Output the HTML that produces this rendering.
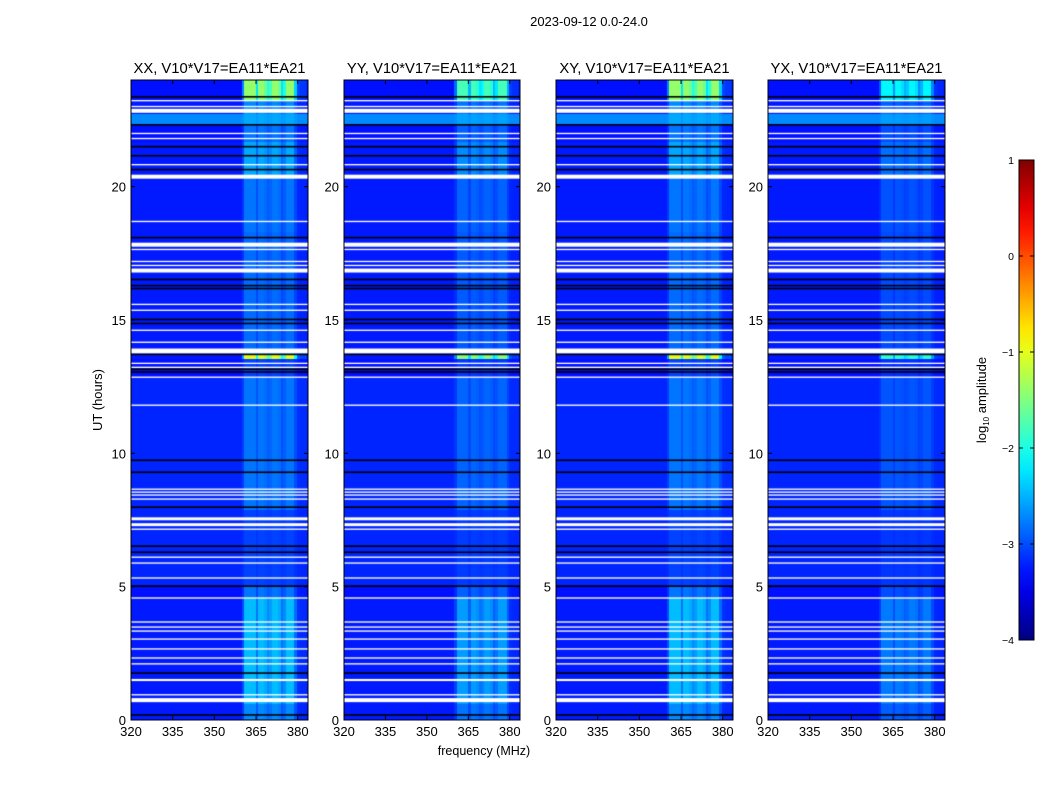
<!DOCTYPE html>
<html><head><meta charset="utf-8">
<style>
html,body{margin:0;padding:0;background:#fff;}
#root{position:relative;width:1050px;height:800px;overflow:hidden;font-family:"Liberation Sans",sans-serif;}
canvas{position:absolute;}
svg{position:absolute;left:0;top:0;}
</style></head>
<body>
<div id="root">
<canvas id="c0" width="177" height="640" style="left:131px;top:80px"></canvas>
<canvas id="c1" width="176" height="640" style="left:344px;top:80px"></canvas>
<canvas id="c2" width="177" height="640" style="left:556px;top:80px"></canvas>
<canvas id="c3" width="177" height="640" style="left:768px;top:80px"></canvas>
<svg id="ov" width="1050" height="800"></svg>
</div>
<script>
// ---- data ----
const panelTitles = ["XX, V10*V17=EA11*EA21","YY, V10*V17=EA11*EA21","XY, V10*V17=EA11*EA21","YX, V10*V17=EA11*EA21"];
const panelBandGain = [1.0, 0.8, 1.0, 0.6];
const xTicks = [320,335,350,365,380];
const yTicks = [0,5,10,15,20];
const cbTicks = [1,0,-1,-2,-3,-4];
const cbTickLabels = ["1","0","\u22121","\u22122","\u22123","\u22124"];
// flagged (white) intervals, hours
const flagged = [[23.20,23.25],[22.98,23.03],[22.77,22.92],[21.97,22.02],[21.78,21.83],[20.80,20.85],[20.30,20.45],
 [18.67,18.72],[17.75,17.90],[17.62,17.67],[17.17,17.22],[17.02,17.07],[16.78,16.93],[15.56,15.61],[15.34,15.39],
 [14.59,14.64],[14.14,14.19],[13.75,13.93],[13.35,13.40],[13.20,13.25],[12.83,12.88],[11.78,11.83],
 [8.63,8.68],[8.52,8.57],[8.41,8.46],[8.26,8.31],[7.49,7.60],[7.27,7.38],[7.13,7.18],[6.08,6.13],[5.86,5.91],
 [5.30,5.35],[4.55,4.60],[3.65,3.70],[3.46,3.51],[3.31,3.36],[3.01,3.06],[2.64,2.69],[2.30,2.35],[2.08,2.13],
 [1.46,1.54],[0.92,0.97],[0.67,0.82]];
// dark (black) rows, hours
const darkRows = [23.37,22.32,21.50,21.16,20.64,18.09,16.52,16.29,16.18,15.02,14.87,13.71,13.15,13.05,9.74,9.29,7.98,6.52,6.29,5.02,1.76,0.19];
// time segments: [start, end, background log-amp, band log-amp]
const segStart = [0,0.6,4.6,5.0,7.9,12.85,13.55,13.7,18.3,20.45,21.7,22.3,22.35,22.75,23.25];
const segEnd   = [0.6,4.6,5.0,7.9,12.8,13.55,13.7,18.3,20.3,21.7,22.3,22.35,22.75,23.25,24];
const segBg    = [-3.25,-3.25,-3.3,-3.2,-3.2,-3.3,-3.25,-3.25,-3.25,-3.25,-3.3,-3.25,-2.7,-3.25,-3.3];
const segBand  = [-2.7,-2.45,-2.8,-3.05,-2.8,-3.05,-1.0,-2.85,-2.8,-2.55,-2.8,-2.8,-2.55,-2.7,-1.4];
// frequency channel weights, 1 MHz bins starting at 320 MHz
const chanFreq = []; for (let f=320; f<384; f++) chanFreq.push(f);
const chanWeight = [0,0,0,0,0,0,0,0,0,0, 0,0,0,0,0,0,0,0,0,0, 0,0,0,0,0,0,0,0,0,0, 0,0,0,0,0,0,0,0,0,0,
 0.3,1,1,1,1,0.55,1,1,0.9,0.7,0.8,1,1,0.9,0.55,0.7,1,1,1,0.5,0.15,0.1,0.1,0.05];

// ---- scales ----
const W=[177,176,177,177], H=640, F0=320, F1=383.7;
function xs(f,w){return (f-F0)/(F1-F0)*w;}
function ys(h){return (24-h)/24*H;}
function jet(v){ // v in [-4,1]
  let t=(v+4)/5; t=Math.max(0,Math.min(1,t));
  const r=Math.max(0,Math.min(1,Math.min(4*t-1.5,-4*t+4.5)));
  const g=Math.max(0,Math.min(1,Math.min(4*t-0.5,-4*t+3.5)));
  const b=Math.max(0,Math.min(1,Math.min(4*t+0.5,-4*t+2.5)));
  return `rgb(${Math.round(r*255)},${Math.round(g*255)},${Math.round(b*255)})`;
}
for(let p=0;p<4;p++){
  const cv=document.getElementById('c'+p), ctx=cv.getContext('2d'), w=W[p];
  for(let s=0;s<segStart.length;s++){
    const y0=ys(segEnd[s]), y1=ys(segStart[s]);
    for(let c=0;c<chanFreq.length;c++){
      const v=segBg[s]+panelBandGain[p]*(segBand[s]-segBg[s])*chanWeight[c];
      ctx.fillStyle=jet(v);
      const x0=xs(chanFreq[c],w), x1=xs(chanFreq[c]+1,w);
      ctx.fillRect(Math.floor(x0),Math.floor(y0),Math.ceil(x1)-Math.floor(x0),Math.ceil(y1)-Math.floor(y0));
    }
  }
  ctx.fillStyle='#000';
  for(const d of darkRows){ctx.fillRect(0,ys(d)-0.8,w,1.6);}
  ctx.fillStyle='#fff';
  for(const fr of flagged){const a=ys(fr[1]),b=ys(fr[0]);ctx.fillRect(0,a,w,Math.max(1.3,b-a));}
}
// ---- axes overlay ----
const NS='http://www.w3.org/2000/svg', svg=document.getElementById('ov');
function mk(tag,attrs,txt){const e=document.createElementNS(NS,tag);for(const k in attrs)e.setAttribute(k,attrs[k]);if(txt!==undefined)e.textContent=txt;svg.appendChild(e);return e;}
const PX=[131,344,556,768], PT=80;
let t=mk('text',{x:589,y:26,'font-size':13,'text-anchor':'middle'},'2023-09-12 0.0-24.0');


for(let p=0;p<4;p++){
  const x0=PX[p], w=W[p];
  const r=mk('rect',{x:x0,y:PT,width:w,height:H,fill:'none',stroke:'#000','stroke-width':1});
  
  
  const tt=mk('text',{x:x0+w/2,y:73,'font-size':14.8,'text-anchor':'middle'},panelTitles[p]);
  
  
  for(const f of xTicks){
    const x=x0+xs(f,w);
    mk('line',{x1:x,x2:x,y1:PT+H,y2:PT+H-4,stroke:'#000'});
    mk('line',{x1:x,x2:x,y1:PT,y2:PT+4,stroke:'#000'});
    const l=mk('text',{x:x,y:PT+H+16,'font-size':13,'text-anchor':'middle'},String(f));
    
    
  }
  for(const h of yTicks){
    const y=PT+ys(h);
    mk('line',{x1:x0,x2:x0+4,y1:y,y2:y,stroke:'#000'});
    mk('line',{x1:x0+w,x2:x0+w-4,y1:y,y2:y,stroke:'#000'});
    const l=mk('text',{x:x0-5,y:y+5,'font-size':13,'text-anchor':'end'},String(h));
    
    
  }
}
t=mk('text',{x:102,y:400,'font-size':13,'text-anchor':'middle',transform:'rotate(-90 102 400)'},'UT (hours)');


t=mk('text',{x:484,y:755,'font-size':12.5,'text-anchor':'middle'},'frequency (MHz)');


// colorbar
const CBX=1019,CBY=160,CBW=15,CBH=480;
const defs=mk('defs',{});
const lg=document.createElementNS(NS,'linearGradient');lg.setAttribute('id','jetg');lg.setAttribute('x1','0');lg.setAttribute('y1','1');lg.setAttribute('x2','0');lg.setAttribute('y2','0');
defs.appendChild(lg);
for(let i=0;i<=20;i++){const st=document.createElementNS(NS,'stop');st.setAttribute('offset',i/20);st.setAttribute('stop-color',jet(-4+5*i/20));lg.appendChild(st);}
const cb=mk('rect',{x:CBX,y:CBY,width:CBW,height:CBH,fill:'url(#jetg)',stroke:'#000','stroke-width':1});


for(let i=0;i<cbTicks.length;i++){
  const y=CBY+(1-cbTicks[i])/5*CBH;
  mk('line',{x1:CBX,x2:CBX+4,y1:y,y2:y,stroke:'#000'});
  mk('line',{x1:CBX+CBW,x2:CBX+CBW-4,y1:y,y2:y,stroke:'#000'});
  const l=mk('text',{x:CBX-5,y:y+4,'font-size':10.5,'text-anchor':'end'},cbTickLabels[i]);
  
  
}
t=mk('text',{x:986,y:400,'font-size':13,'text-anchor':'middle',transform:'rotate(-90 986 400)'});
t.innerHTML='log<tspan font-size="8" dy="3">10</tspan><tspan dy="-3"> amplitude</tspan>';


</script>
</body></html>
